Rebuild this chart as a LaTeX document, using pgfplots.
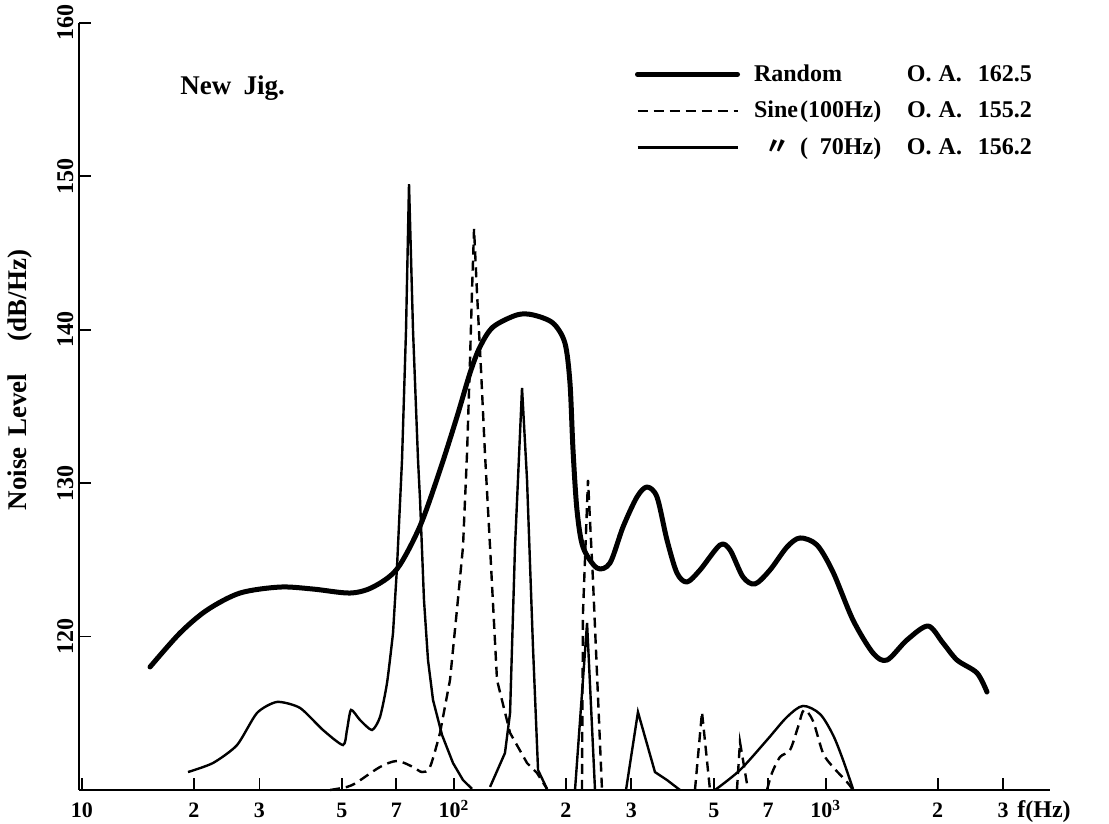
\documentclass[border=0pt]{standalone}
\usepackage{pgfplots}
\pgfplotsset{compat=1.18}
\usepackage{fontspec}
\setmainfont{Liberation Serif}
\newfontfamily\cjk{Noto Sans CJK JP}

\begin{document}
\begin{tikzpicture}
\begin{axis}[
  scale only axis, width=485.5pt, height=383.5pt,
  xmode=log, xmin=9.817, xmax=4008, ymin=110, ymax=160,
  axis x line*=bottom, axis y line*=left,
  axis line style={line width=1pt},
  tick align=inside, major tick length=6pt,
  every tick/.style={black,line width=0.9pt},
  xminorticks=false, yminorticks=false,
  xtick={10,20,30,50,70,100,200,300,500,700,1000,2000,3000},
  xticklabels={10,2,3,5,7,10\textsuperscript{2},2,3,5,7,10\textsuperscript{3},2,3},
  ytick={120,130,140,150,160},
  yticklabels={120,130,140,150,160},
  xticklabel style={anchor=base, yshift=-14pt, font=\fontsize{11}{13}\selectfont\bfseries},
  yticklabel style={xshift=-3pt, rotate=90, anchor=base, font=\fontsize{12}{14}\selectfont\bfseries},
  clip=false,
  legend style={draw=none, fill=none, at={(0.5726,0.9460)}, anchor=north west,
    inner sep=0pt, outer sep=0pt, row sep=8.5pt, column sep=7pt,
    nodes={inner sep=0pt, font=\fontsize{12}{14}\selectfont\bfseries}},
  legend image code/.code={\draw[#1] (0pt,0pt) -- (50pt,0pt);},
  legend cell align=left,
]
% random excitation
\addplot[line width=2.5pt, line join=round, line cap=round, smooth, tension=0.5] coordinates {
(15.24,118.02) (18.34,120.23) (21.69,121.73) (26.60,122.84) (34.07,123.23) (41.81,123.10)
(52.56,122.84) (60.60,123.23) (70.33,124.41) (81.10,127.21) (91.77,130.86) (101.9,134.32)
(110.5,137.18) (117.5,138.88) (127.4,140.18) (147.8,140.97) (163.2,140.97) (184.7,140.44)
(198.9,139.14) (205.2,136.53) (209.1,132.16) (214.3,128.25) (222.4,125.84) (242.6,124.47)
(262.9,124.80) (284.9,127.14) (310.7,129.10) (330.5,129.75) (351.7,129.10) (374.1,126.30)
(398.0,124.15) (423.4,123.56) (459.0,124.34) (519.4,125.97) (552.6,125.65) (598.9,123.89)
(645.2,123.43) (707.9,124.34) (786.6,125.84) (852.6,126.43) (947.1,125.97) (1045.7,124.21)
(1183.6,121.08) (1339.6,118.93) (1460.6,118.47) (1653.4,119.78) (1883.4,120.69) (2066.9,119.58)
(2253.9,118.47) (2550.2,117.63) (2712.9,116.39)};
\addlegendentry{\hbox to 76.5pt{Random\hfil}O.\hspace{3.5pt}A.\hspace{8pt}162.5}

% sine 100 Hz (dashed)
\addplot[line width=1.2pt, dash pattern=on 5pt off 3pt, smooth, tension=0.5] coordinates {
(46.45,110.0) (51.59,110.2) (54.88,110.5) (63.30,111.50) (70.33,111.89) (77.65,111.50)
(82.08,111.17) (86.27,111.50) (91.77,113.72)};
\addlegendentry{\hbox to 76.5pt{Sine\hspace{1pt}(100Hz)\hfil}O.\hspace{3.5pt}A.\hspace{8pt}155.2}
\addplot[line width=1.2pt, dash pattern=on 5pt off 3pt, forget plot] coordinates {
(91.77,113.72) (97.63,117.17) (101.9,121.73) (105.8,125.84) (108.5,131.97) (110.5,138.03)
(111.9,142.59) (113.3,146.57) (115.4,142.40) (118.3,137.38) (121.2,131.97) (125.1,125.84)
(130.6,117.17) (141.6,113.72) (157.3,111.76) (167.3,111.11) (178.0,110.07)};
\addplot[line width=1.2pt, dash pattern=on 5pt off 3pt, forget plot] coordinates {
(221.0,110) (222.4,121.54) (229.4,130.21) (236.6,123.69) (250.2,110)};
\addplot[line width=1.2pt, dash pattern=on 5pt off 3pt, forget plot] coordinates {
(444.9,110) (464.7,115.08) (488.3,110)};
\addplot[line width=1.2pt, dash pattern=on 5pt off 3pt, forget plot] coordinates {
(577.0,110) (587.9,113.13) (617.9,110)};
\addplot[line width=1.2pt, dash pattern=on 5pt off 3pt, smooth, tension=0.5, forget plot] coordinates {
(695.0,110) (716.8,111.11) (753.2,112.15) (801.5,112.61) (842.2,114.11) (873.9,115.22)
(923.9,114.50) (982.9,112.41) (1045.7,111.50) (1140.3,110.52) (1183.6,110)};

% sine 70 Hz (thin solid)
\addplot[line width=1.2pt, smooth, tension=0.4] coordinates {
(19.28,111.17) (22.51,111.76) (26.12,112.93) (29.55,115.02) (33.45,115.74) (38.57,115.35)
(44.47,113.91) (50.33,112.93) (51.59,113.91) (52.89,115.22) (55.93,114.56) (60.24,113.91)
(63.30,114.76) (66.11,116.98) (68.61,120.23)};
\addlegendentry{\hbox to 76.5pt{\makebox[23pt][c]{\cjk 〃}(\phantom{1}70Hz)\hfil}O.\hspace{3.5pt}A.\hspace{8pt}156.2}
\addplot[line width=1.2pt, forget plot] coordinates {
(68.61,120.23) (70.33,124.54) (72.54,131.51) (74.36,139.99) (75.75,149.50) (77.65,139.99)
(80.09,131.51) (81.10,128.90) (83.10,122.39) (85.20,118.47) (87.88,115.87) (92.92,113.59)
(99.45,111.76) (105.8,110.65) (111.9,110.07)};
\addplot[line width=1.2pt, forget plot] coordinates {
(125.1,110.20) (137.2,112.41) (141.6,115.02) (146.0,125.84) (152.5,136.21) (157.3,130.21)
(163.2,119.32) (168.4,111.30) (178.0,110.07)};
\addplot[line width=1.2pt, forget plot] coordinates {
(211.7,110) (228.1,120.89) (239.6,110)};
\addplot[line width=1.2pt, forget plot] coordinates {
(290.3,110) (312.6,115.08) (347.3,111.17) (374.1,110.65) (405.5,110)};
\addplot[line width=1.2pt, smooth, tension=0.5, forget plot] coordinates {
(503.7,110) (587.9,111.30) (695.0,113.26) (786.6,114.76) (868.5,115.48) (965.0,114.95)
(1045.7,113.59) (1112.7,111.96) (1183.6,110.07)};
\end{axis}
\node[anchor=base west, inner sep=0pt, font=\fontsize{13.5}{16}\selectfont\bfseries] at (50.5pt,347.5pt) {New\hspace{0.45em}Jig.};
\node[rotate=90, inner sep=0pt, font=\fontsize{13.5}{16}\selectfont\bfseries] at (-29.5pt,205pt) {Noise\hspace{0.4em}Level\hspace{1.2em}(dB/Hz)};
\node[anchor=base west, inner sep=0pt, font=\fontsize{12}{14}\selectfont\bfseries] at (469pt,-14pt) {f(Hz)};
\pgfresetboundingbox
\path[use as bounding box] (-39.5pt,-17pt) rectangle (515pt,395pt);
\end{tikzpicture}
\end{document}
